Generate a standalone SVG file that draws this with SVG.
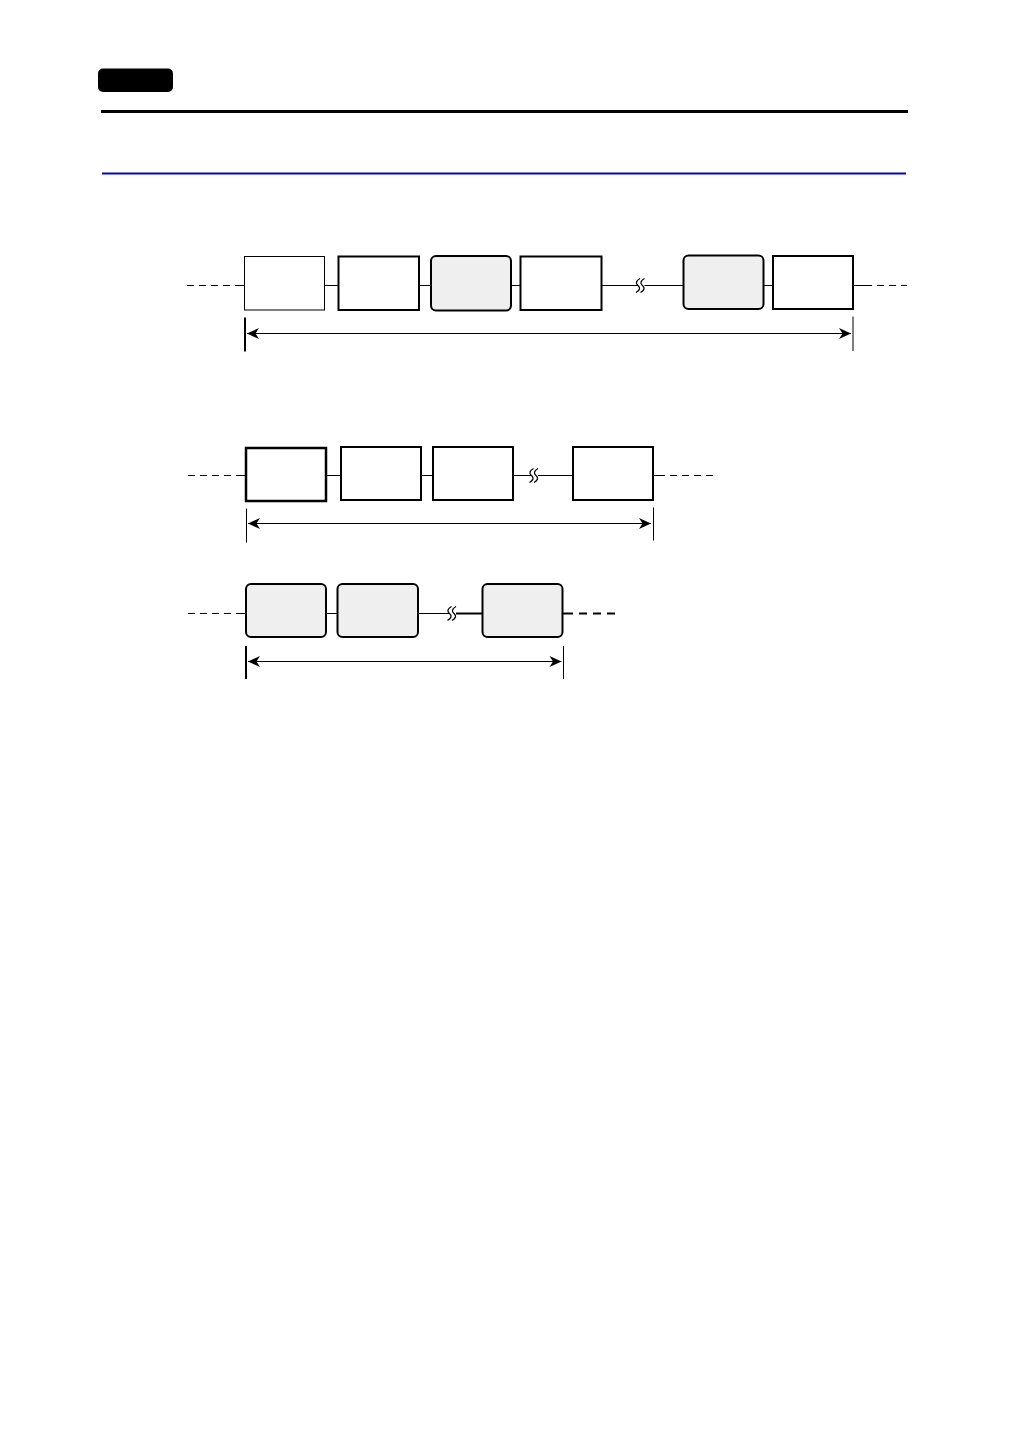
<svg xmlns="http://www.w3.org/2000/svg" width="1030" height="1456" viewBox="0 0 1030 1456">
<style>
.box{fill:#fff;stroke:#000;stroke-width:2}
.thin{stroke-width:1}
.bold{stroke-width:2.5}
.gray{fill:#efefef;stroke:#000;stroke-width:2}
.ln{stroke:#000;stroke-width:1;fill:none}
.ln2{stroke:#000;stroke-width:2;fill:none}
.dash{stroke:#000;stroke-width:1;stroke-dasharray:7 5;fill:none}
.dash2{stroke:#000;stroke-width:2;stroke-dasharray:8 6;fill:none}
.brk{stroke:#000;stroke-width:1.3;fill:none}
.dim{stroke:#000;stroke-width:1.2;fill:none;marker-start:url(#ah);marker-end:url(#ah)}
</style>
<defs>
<marker id="ah" viewBox="-13 -6 14 12" refX="0" refY="0" markerWidth="14" markerHeight="12" markerUnits="userSpaceOnUse" orient="auto-start-reverse">
<path d="M0,0 L-12,-5.5 L-8.5,0 L-12,5.5 Z" fill="#000"/>
</marker>
<path id="bk" d="M2,-7 Q-4,-3.5 0,0 Q4,3.5 -2,7 M6.5,-7 Q0.5,-3.5 4.5,0 Q8.5,3.5 2.5,7"/>
</defs>
<rect width="1030" height="1456" fill="#fff"/>
<g id="header">
<rect x="98" y="68.5" width="75" height="23.5" rx="5" fill="#000"/>
<line x1="101" y1="111.5" x2="908" y2="111.5" stroke="#000" stroke-width="3"/>
<line x1="102" y1="173.5" x2="906" y2="173.5" stroke="#0606b0" stroke-width="2"/>
</g>
<g id="connectors">
<!-- row 1 -->
<line class="dash" x1="187" y1="285.5" x2="235" y2="285.5"/>
<line class="ln" x1="235" y1="285.5" x2="244.5" y2="285.5"/>
<line class="ln" x1="324.5" y1="285.5" x2="338.5" y2="285.5"/>
<line class="ln" x1="419" y1="285.5" x2="431" y2="285.5"/>
<line class="ln" x1="511" y1="285.5" x2="520.5" y2="285.5"/>
<line class="ln" x1="601.5" y1="285.5" x2="638" y2="285.5"/>
<line class="ln" x1="644.5" y1="285.5" x2="683.5" y2="285.5"/>
<use href="#bk" class="brk" x="638" y="285.5"/>
<line class="ln" x1="763.5" y1="285.5" x2="773" y2="285.5"/>
<line class="ln" x1="853" y1="285.5" x2="865" y2="285.5"/>
<line class="dash" x1="865" y1="285.5" x2="907" y2="285.5"/>
<line class="ln2" x1="245" y1="317.5" x2="245" y2="351.5"/>
<line class="ln" x1="853" y1="316.5" x2="853" y2="351"/>
<line class="dim" x1="247" y1="333.5" x2="851" y2="333.5"/>
<!-- row 2 -->
<line class="dash" x1="188" y1="475.5" x2="236" y2="475.5"/>
<line class="ln" x1="236" y1="475.5" x2="246" y2="475.5"/>
<line class="ln" x1="326" y1="475.5" x2="341" y2="475.5"/>
<line class="ln" x1="421" y1="475.5" x2="433" y2="475.5"/>
<line class="ln" x1="513" y1="475.5" x2="531.5" y2="475.5"/>
<line class="ln" x1="538" y1="475.5" x2="573" y2="475.5"/>
<use href="#bk" class="brk" x="531.5" y="475.5"/>
<line class="ln" x1="653" y1="475.5" x2="665" y2="475.5"/>
<line class="dash" x1="670" y1="475.5" x2="716" y2="475.5"/>
<line class="ln" x1="246.5" y1="508.5" x2="246.5" y2="542.5"/>
<line class="ln" x1="653.5" y1="507.5" x2="653.5" y2="540.5"/>
<line class="dim" x1="248" y1="523.5" x2="651" y2="523.5"/>
<!-- row 3 -->
<line class="dash" x1="188" y1="613.5" x2="237" y2="613.5"/>
<line class="ln" x1="237" y1="613.5" x2="246" y2="613.5"/>
<line class="ln" x1="326" y1="613.5" x2="337.5" y2="613.5"/>
<line class="ln" x1="418" y1="613.5" x2="449.5" y2="613.5"/>
<use href="#bk" class="brk" x="449.5" y="613.5"/>
<line class="ln2" x1="456" y1="613.5" x2="482.5" y2="613.5"/>
<line class="ln2" x1="562.5" y1="613.5" x2="573" y2="613.5"/>
<line class="dash2" x1="579" y1="613.5" x2="621" y2="613.5"/>
<line class="ln2" x1="246" y1="646" x2="246" y2="679"/>
<line class="ln" x1="563.5" y1="646" x2="563.5" y2="679"/>
<line class="dim" x1="248" y1="661.5" x2="561.5" y2="661.5"/>
</g>
<g id="row1-node1"><rect class="box thin" x="244.5" y="256.5" width="80" height="53.5"/></g>
<g id="row1-node2"><rect class="box" x="338.5" y="256.5" width="80.5" height="53.5"/></g>
<g id="row1-node3"><rect class="gray" x="431" y="256" width="80" height="54.5" rx="5"/></g>
<g id="row1-node4"><rect class="box" x="520.5" y="256.5" width="81" height="53.5"/></g>
<g id="row1-node5"><rect class="gray" x="683.5" y="255.5" width="80" height="53.5" rx="5"/></g>
<g id="row1-node6"><rect class="box" x="773" y="256" width="80" height="53"/></g>
<g id="row2-node1"><rect class="box bold" x="246" y="448" width="80" height="53"/></g>
<g id="row2-node2"><rect class="box" x="341" y="447" width="80" height="53"/></g>
<g id="row2-node3"><rect class="box" x="433" y="447" width="80" height="53"/></g>
<g id="row2-node4"><rect class="box" x="573" y="447" width="80" height="53"/></g>
<g id="row3-node1"><rect class="gray" x="246" y="584" width="80" height="53" rx="5"/></g>
<g id="row3-node2"><rect class="gray" x="337.5" y="584" width="80.5" height="53" rx="5"/></g>
<g id="row3-node3"><rect class="gray" x="482.5" y="584" width="80" height="53" rx="5"/></g>
</svg>
